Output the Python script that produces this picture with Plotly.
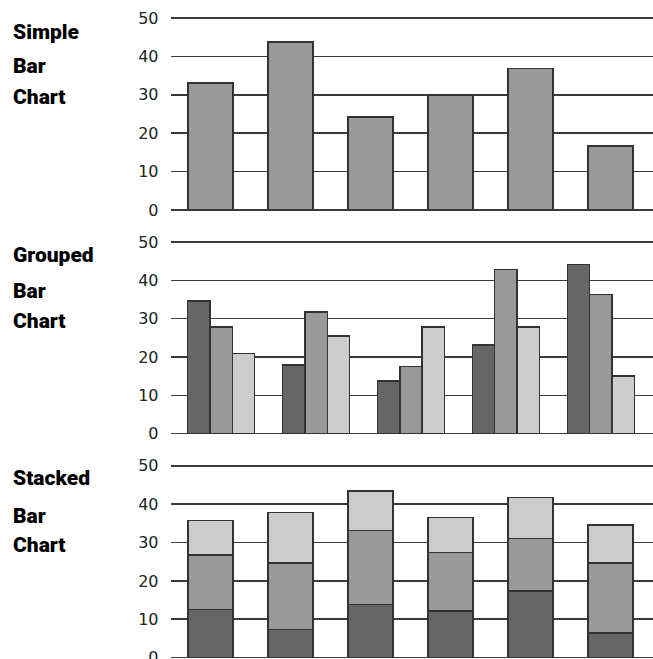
import plotly.graph_objects as go

# ---- data ----
simple_x = [0, 1, 2, 3, 4, 5]
simple_vals = [33.1, 43.8, 24.2, 29.9, 36.9, 16.7]

grouped_x = [0, 1, 2, 3, 4]
grouped_a = [34.6, 17.9, 13.7, 23.2, 44.2]
grouped_b = [27.8, 31.7, 17.5, 42.8, 36.3]
grouped_c = [20.9, 25.5, 27.8, 27.8, 15.0]

stacked_x = [0, 1, 2, 3, 4, 5]
stacked_a = [12.5, 7.3, 13.8, 12.1, 17.4, 6.4]
stacked_b = [14.2, 17.4, 19.3, 15.3, 13.7, 18.3]
stacked_c = [9.1, 13.1, 10.3, 9.1, 10.6, 9.8]

titles = [["Simple", "Bar", "Chart"],
          ["Grouped", "Bar", "Chart"],
          ["Stacked", "Bar", "Chart"]]
y_ticks = [0, 10, 20, 30, 40, 50]

DARK, MID, LIGHT = '#666666', '#999999', '#cccccc'
EDGE = dict(color='#333333', width=1.5)
W, H = 653, 659

fig = go.Figure()

fig.add_trace(go.Bar(x=simple_x, y=simple_vals, width=0.566,
                     marker=dict(color=MID, line=EDGE),
                     xaxis='x', yaxis='y'))

for vals, col, grp in [(grouped_a, DARK, 'a'), (grouped_b, MID, 'b'),
                       (grouped_c, LIGHT, 'c')]:
    fig.add_trace(go.Bar(x=grouped_x, y=vals, offsetgroup=grp,
                         marker=dict(color=col, line=EDGE),
                         xaxis='x2', yaxis='y2'))

for vals, col in [(stacked_a, DARK), (stacked_b, MID), (stacked_c, LIGHT)]:
    fig.add_trace(go.Bar(x=stacked_x, y=vals, width=0.566,
                         marker=dict(color=col, line=EDGE),
                         xaxis='x3', yaxis='y3'))

x_dom = [170.5 / W, 1]
xcommon = dict(showgrid=False, zeroline=False, showticklabels=False,
               ticks='', fixedrange=True, automargin=False)
ycommon = dict(tickvals=y_ticks, showgrid=True, gridcolor='#3a3a3a',
               gridwidth=1.6, zeroline=True, zerolinecolor='#3a3a3a',
               zerolinewidth=1.6, ticks='', ticklabelstandoff=11,
               ticklabeloverflow='allow',
               automargin=False, fixedrange=True,
               tickfont=dict(family='DejaVu Sans', size=16, color='#222'))

fig.update_layout(
    template='none',
    width=W, height=H,
    margin=dict(l=0, r=0, t=0, b=0, pad=0),
    plot_bgcolor='white', paper_bgcolor='white',
    showlegend=False,
    barmode='stack', bargap=0.294, bargroupgap=0,
    xaxis=dict(domain=x_dom, range=[-0.5, 5.53], anchor='y', **xcommon),
    yaxis=dict(domain=[1 - 211.5 / H, 1 - 16.46 / H], range=[-0.4, 50.4],
               anchor='x', **ycommon),
    xaxis2=dict(domain=x_dom, range=[-0.534, 4.55], anchor='y2', **xcommon),
    yaxis2=dict(domain=[1 - 435.2 / H, 1 - 240.5 / H], range=[-0.4, 50.4],
                anchor='x2', **ycommon),
    xaxis3=dict(domain=x_dom, range=[-0.5, 5.53], anchor='y3', **xcommon),
    yaxis3=dict(domain=[0, 1 - 464.2 / H], range=[-0.34, 50.4],
                anchor='x3', **ycommon),
)

title_y = [[32, 65.5, 96.7], [255.3, 290.5, 320.8], [478.2, 515.8, 545.3]]
for lines, ys in zip(titles, title_y):
    for text, yp in zip(lines, ys):
        fig.add_annotation(text=text, xref='paper', yref='paper',
                           x=11 / W, y=1 - yp / H, xanchor='left',
                           yanchor='middle', showarrow=False,
                           font=dict(family='Roboto', size=21, color='black',
                                     weight=900))

# page body has an 8px default margin; drop it so the figure sits at 0,0
fig.write_html("out.html",
               config={'displayModeBar': False, 'staticPlot': True},
               post_script="document.body.style.margin='0';"
                           "document.body.style.overflow='hidden';")
